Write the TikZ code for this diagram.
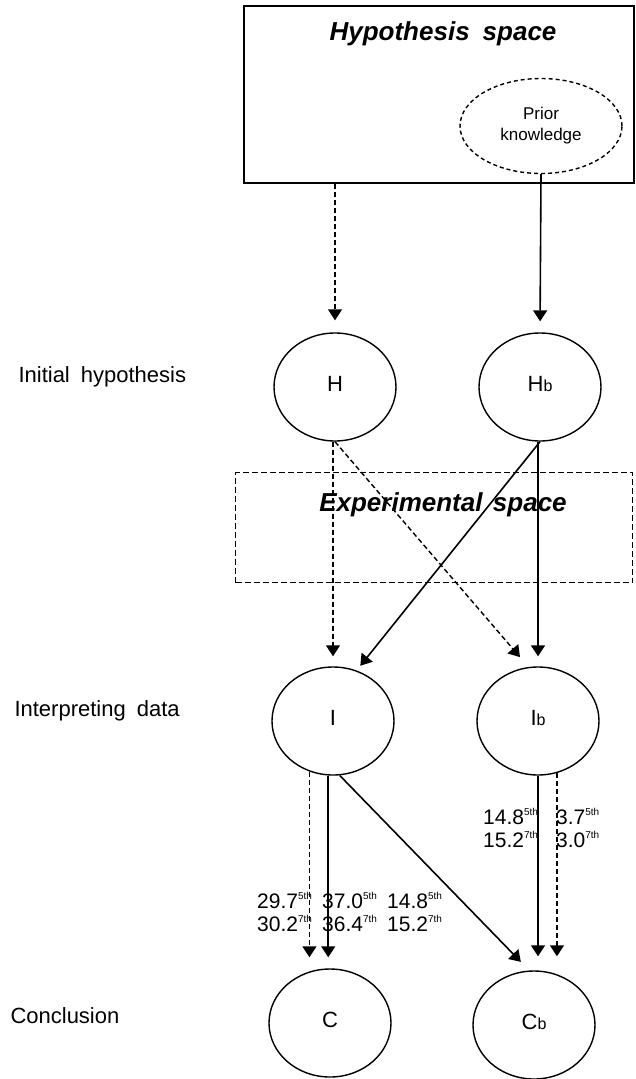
\documentclass[tikz,border=0pt]{standalone}
\usepackage{fontspec}
\setmainfont{Liberation Sans}
\usetikzlibrary{arrows.meta,shapes.geometric}

% superscripted ordinal after a percentage
\newcommand\pctord[2]{#1\raisebox{0.42em}{\fontsize{10}{10}\selectfont #2}}

\begin{document}
\begin{tikzpicture}[x=1pt,y=-1pt,
  stage/.style={draw, ellipse, line width=1.4pt, minimum width=122pt,
    minimum height=108pt, inner sep=0pt, font=\fontsize{22}{22}\selectfont},
  spacebox/.style={draw, rectangle, inner sep=0pt, anchor=north west},
  spacetitle/.style={anchor=base, font=\fontsize{26}{26}\selectfont\bfseries\itshape},
  rowlabel/.style={anchor=base west, font=\fontsize{22}{22}\selectfont},
  figs/.style={anchor=west, align=left, inner sep=0pt, font=\fontsize{21}{23}\selectfont},
  solidarrow/.style={line width=1.6pt, -{Triangle[width=14pt,length=11pt]}},
  dasharrow/.style={solidarrow, line width=1.4pt, dash pattern=on 5pt off 3pt},
]
\useasboundingbox (0,0) rectangle (635,1079);

% hypothesis space with prior knowledge
\node[spacebox, line width=1.8pt, minimum width=390pt, minimum height=177pt] (hyp) at (243,5) {};
\node[spacetitle] (hyptitle) at (443,40) {Hypothesis\hspace{0.5em}space};
\node[draw, ellipse, dash pattern=on 4pt off 3pt, line width=1.4pt, minimum width=162pt,
  minimum height=95pt, inner sep=0pt, align=center, font=\fontsize{17}{21}\selectfont]
  (prior) at (541,126) {Prior\\knowledge};

% experimental space
\node[spacebox, dash pattern=on 6pt off 3pt, line width=1.3pt, minimum width=397pt,
  minimum height=110pt] (exp) at (235,472) {};
\node[spacetitle] (exptitle) at (443,511) {Experimental\hspace{0.4em}space};

% stage labels
\node[rowlabel] (lab1) at (15,382) {Initial\hspace{0.5em}hypothesis};
\node[rowlabel] (lab2) at (11,716) {Interpreting\hspace{0.5em}data};
\node[rowlabel] (lab3) at (7,1023) {Conclusion};

% stages
\node[stage] (H)  at (335,387) {\raisebox{6pt}{H}};
\node[stage] (Hb) at (540,387) {\raisebox{6pt}{H{\fontsize{16}{16}\selectfont b}}};
\node[stage] (I)  at (333,721) {\raisebox{6pt}{I}};
\node[stage] (Ib) at (538,721) {\raisebox{6pt}{I{\fontsize{16}{16}\selectfont b}}};
\node[stage] (C)  at (330,1023) {\raisebox{6pt}{C}};
\node[stage] (Cb) at (534,1025) {\raisebox{6pt}{C{\fontsize{16}{16}\selectfont b}}};

% connectors
\draw[dasharrow, shorten >=12pt] (H |- hyp.south) -- (H.north);
\draw[solidarrow, shorten >=11pt] (prior.south) -- (Hb.north);
\draw[dasharrow, shorten >=10pt] (I |- H.south) -- (I.north);
\draw[dasharrow, shorten >=13pt] (H.south) -- (Ib.100);
\draw[solidarrow, shorten >=6pt] (Hb.south) -- (I.65);
\draw[solidarrow, shorten >=10pt] (Ib |- Hb.south) -- (Ib.north);
\draw[dasharrow, shorten >=11pt] (I.245) -- (I.245 |- C.north);
\draw[solidarrow, shorten >=11pt] (I.265) -- (I.265 |- C.north);
\draw[solidarrow, shorten >=12pt] (I.277) -- (Cb.95);
\draw[solidarrow, shorten >=14pt] (Ib.south) -- (Ib.south |- Cb.north);
\draw[dasharrow, shorten >=14pt] (Ib.290) -- (Ib.290 |- Cb.north);

% percentages
\node[figs] (p1) at (257,912) {\pctord{29.7}{5th}\\\pctord{30.2}{7th}};
\node[figs] (p2) at (322,912) {\pctord{37.0}{5th}\\\pctord{36.4}{7th}};
\node[figs] (p3) at (387,912) {\pctord{14.8}{5th}\\\pctord{15.2}{7th}};
\node[figs] (p4) at (483,828) {\pctord{14.8}{5th}\\\pctord{15.2}{7th}};
\node[figs] (p5) at (556,828) {\pctord{3.7}{5th}\\\pctord{3.0}{7th}};
\end{tikzpicture}
\end{document}
